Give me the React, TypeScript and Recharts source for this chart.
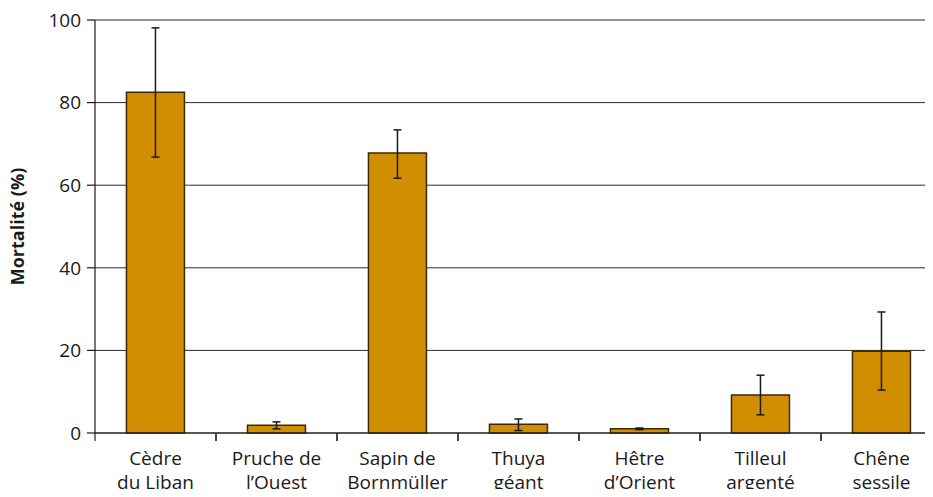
import { Bar, BarChart, CartesianGrid, ErrorBar, XAxis, YAxis } from "recharts";

const species = [
  "Cèdre\ndu Liban",
  "Pruche de\nl’Ouest",
  "Sapin de\nBornmüller",
  "Thuya\ngéant",
  "Hêtre\nd’Orient",
  "Tilleul\nargenté",
  "Chêne\nsessile",
];
const mortality = [82.5, 1.9, 67.8, 2.1, 1.0, 9.2, 19.8];
const errLow = [66.8, 1.0, 61.7, 0.6, 0.8, 4.4, 10.4];
const errHigh = [98.1, 2.7, 73.4, 3.4, 1.2, 14.0, 29.3];
const yTicks = [0, 20, 40, 60, 80, 100];

const data = species.map((name, i) => ({
  name,
  mortality: mortality[i],
  err: [mortality[i] - errLow[i], errHigh[i] - mortality[i]],
}));

const CHART_W = 960;
const CHART_H = 497;
const Y_AXIS_W = 95;
const X_AXIS_H = 64;
const MARGIN = { top: 20, right: 18, left: 0, bottom: 0 };
const BAND = (CHART_W - MARGIN.left - MARGIN.right - Y_AXIS_W) / species.length;
const FONT = "'Open Sans', sans-serif";

// category label centred in its band, tick marks on the band edges
function CategoryTick({ x, y, payload }: any) {
  const lines = String(payload.value).split("\n");
  return (
    <g>
      <line x1={x - BAND / 2} y1={y - 8} x2={x - BAND / 2} y2={y} stroke="#222" strokeWidth={1.2} />
      <line x1={x + BAND / 2} y1={y - 8} x2={x + BAND / 2} y2={y} stroke="#222" strokeWidth={1.2} />
      <text x={x} y={y + 24} textAnchor="middle" fill="#1a1a1a" fontSize={19} fontFamily={FONT}>
        {lines.map((line, i) => (
          <tspan key={i} x={x} dy={i === 0 ? 0 : 24}>
            {line}
          </tspan>
        ))}
      </text>
    </g>
  );
}

export default function App() {
  return (
    <div style={{ margin: -8, width: 933, height: CHART_H, overflow: "hidden", background: "#fff" }}>
      <BarChart
        width={CHART_W}
        height={CHART_H}
        data={data}
        margin={MARGIN}
        barCategoryGap="26%"
      >
        <CartesianGrid vertical={false} stroke="#2a2a2a" strokeWidth={1} />
        <XAxis
          dataKey="name"
          height={X_AXIS_H}
          interval={0}
          tickSize={8}
          tickMargin={0}
          tickLine={false}
          axisLine={{ stroke: "#1a1a1a", strokeWidth: 1.2 }}
          tick={<CategoryTick />}
        />
        <YAxis
          width={Y_AXIS_W}
          domain={[0, 100]}
          ticks={yTicks}
          interval={0}
          tickSize={8}
          tickMargin={6}
          axisLine={{ stroke: "#1a1a1a", strokeWidth: 1.2 }}
          tickLine={{ stroke: "#1a1a1a", strokeWidth: 1.2 }}
          tick={{ fill: "#1a1a1a", fontSize: 19, fontFamily: FONT }}
          label={{
            value: "Mortalité (%)",
            angle: -90,
            position: "insideLeft",
            offset: 18,
            style: { textAnchor: "middle", fontWeight: 700, fontSize: 18, fontFamily: FONT, fill: "#1a1a1a" },
          }}
        />
        <Bar dataKey="mortality" fill="#D18E00" stroke="#3a2a0a" strokeWidth={1.5} isAnimationActive={false}>
          <ErrorBar dataKey="err" width={4} stroke="#1a1a1a" strokeWidth={1.5} direction="y" isAnimationActive={false} />
        </Bar>
      </BarChart>
    </div>
  );
}
